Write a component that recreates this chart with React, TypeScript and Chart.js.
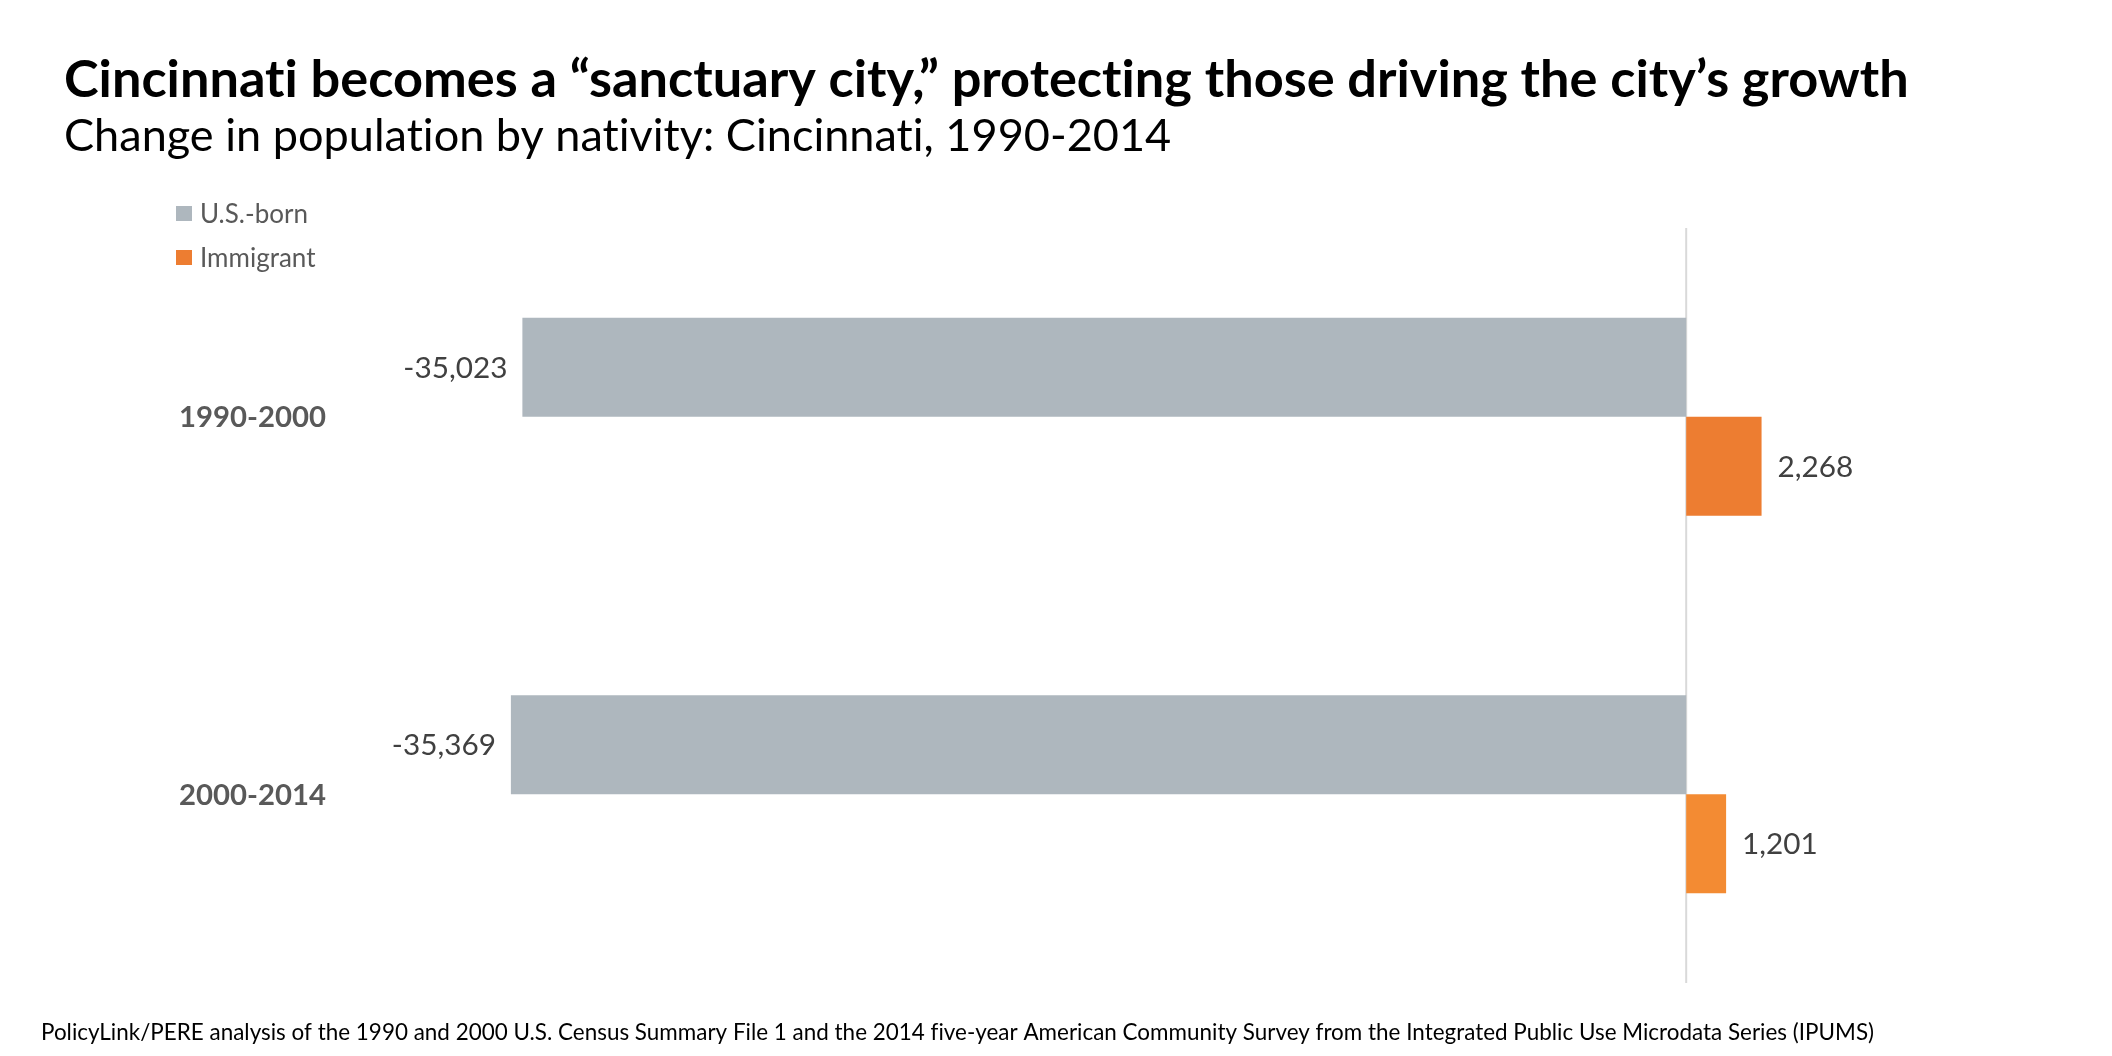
import React, { useEffect, useRef } from "react";
import { Chart, registerables } from "chart.js";

Chart.register(...registerables);

// ---- data ----
const periods = ["1990-2000", "2000-2014"];
const usBorn = [-35023, -35369];
const immigrant = [2268, 1201];
const seriesNames = ["U.S.-born", "Immigrant"];
const xMin = -40000;
const xMax = 10000;

const titleText =
  "Cincinnati becomes a \u201Csanctuary city,\u201D protecting those driving the city\u2019s growth";
const subtitleText = "Change in population by nativity: Cincinnati, 1990-2014";
const sourceText =
  "PolicyLink/PERE analysis of the 1990 and 2000 U.S. Census Summary File 1 and the 2014 five-year American Community Survey from the Integrated Public Use Microdata Series (IPUMS)";

// ---- styles ----
const GRAY = "#AEB7BE";
const ORANGES = ["#ED7D31", "#F38B33"];
const FAMILY = "Lato, 'Open Sans', sans-serif";

function noLig(ctx: any) {
  try {
    ctx.letterSpacing = "0.01px";
  } catch (e) {}
}

function fitSize(ctx: CanvasRenderingContext2D, text: string, weight: string, width: number) {
  ctx.font = `${weight} 100px ${FAMILY}`;
  noLig(ctx);
  const w = ctx.measureText(text).width;
  return (100 * width) / w;
}

function drawFit(
  ctx: CanvasRenderingContext2D,
  text: string,
  weight: string,
  width: number,
  x: number,
  y: number,
  color: string
) {
  const s = fitSize(ctx, text, weight, width);
  ctx.font = `${weight} ${s}px ${FAMILY}`;
  noLig(ctx);
  ctx.fillStyle = color;
  ctx.textAlign = "left";
  ctx.textBaseline = "alphabetic";
  ctx.fillText(text, x, y);
}

const fmt = (v: number) => v.toLocaleString("en-US");

const decorPlugin = {
  id: "decor",
  beforeDatasetsDraw(chart: any) {
    const { ctx, chartArea, scales } = chart;
    const x0 = scales.x.getPixelForValue(0);
    ctx.save();
    ctx.strokeStyle = "#D9D9D9";
    ctx.lineWidth = 2;
    ctx.beginPath();
    ctx.moveTo(x0, chartArea.top);
    ctx.lineTo(x0, chartArea.bottom);
    ctx.stroke();
    ctx.restore();
  },
  afterDatasetsDraw(chart: any) {
    const { ctx, scales } = chart;
    ctx.save();
    // value labels
    const valSize = fitSize(ctx, "-35,023", "400", 104);
    ctx.font = `400 ${valSize}px ${FAMILY}`;
    noLig(ctx);
    ctx.fillStyle = "#404040";
    ctx.textBaseline = "alphabetic";
    chart.data.datasets.forEach((ds: any, di: number) => {
      const meta = chart.getDatasetMeta(di);
      meta.data.forEach((el: any, i: number) => {
        const v = ds.data[i] as number;
        const yb = el.y + valSize * 0.36;
        if (v < 0) {
          ctx.textAlign = "right";
          ctx.fillText(fmt(v), el.x - 15, yb);
        } else {
          ctx.textAlign = "left";
          ctx.fillText(fmt(v), el.x + 16, yb);
        }
      });
    });
    // category labels
    const catSize = fitSize(ctx, "1990-2000", "700", 147);
    ctx.font = `700 ${catSize}px ${FAMILY}`;
    noLig(ctx);
    ctx.fillStyle = "#595959";
    ctx.textAlign = "left";
    chart.data.labels.forEach((lab: string, i: number) => {
      const y = scales.y.getPixelForValue(i);
      ctx.fillText(lab, 179, y + catSize * 0.36);
    });
    ctx.restore();
  },
  afterDraw(chart: any) {
    const { ctx } = chart;
    ctx.save();
    drawFit(ctx, titleText, "700", 1845, 64, 97, "#000000");
    drawFit(ctx, subtitleText, "400", 1107, 64, 151, "#000000");
    drawFit(ctx, sourceText, "400", 1833, 41, 1040, "#000000");
    // legend
    const legSize = fitSize(ctx, "U.S.-born", "400", 108);
    const rows = [206, 250];
    chart.data.datasets.forEach((ds: any, di: number) => {
      const bg = Array.isArray(ds.backgroundColor) ? ds.backgroundColor[0] : ds.backgroundColor;
      const top = rows[di];
      ctx.fillStyle = bg;
      ctx.fillRect(176, top, 16, 15);
      ctx.font = `400 ${legSize}px ${FAMILY}`;
      noLig(ctx);
      ctx.fillStyle = "#595959";
      ctx.textAlign = "left";
      ctx.textBaseline = "alphabetic";
      ctx.fillText(ds.label, 200, top + 7.5 + legSize * 0.36);
    });
    ctx.restore();
  },
};

export default function App() {
  const ref = useRef<HTMLCanvasElement | null>(null);
  useEffect(() => {
    if (!ref.current) return;
    const chart = new Chart(ref.current, {
      type: "bar",
      data: {
        labels: periods,
        datasets: [
          {
            label: seriesNames[0],
            data: usBorn,
            backgroundColor: GRAY,
            borderWidth: 0,
            categoryPercentage: 0.525,
            barPercentage: 1,
          },
          {
            label: seriesNames[1],
            data: immigrant,
            backgroundColor: ORANGES,
            borderWidth: 0,
            categoryPercentage: 0.525,
            barPercentage: 1,
          },
        ],
      },
      options: {
        indexAxis: "y",
        responsive: false,
        devicePixelRatio: 1,
        animation: false,
        layout: { padding: { left: 357, right: 93.5, top: 228, bottom: 73 } },
        plugins: {
          legend: { display: false },
          tooltip: { enabled: false },
          title: { display: false },
        },
        scales: {
          x: { type: "linear", min: xMin, max: xMax, display: false },
          y: { type: "category", display: false },
        },
      },
      plugins: [decorPlugin],
    });
    return () => chart.destroy();
  }, []);
  return (
    <div style={{ position: "fixed", left: 0, top: 0, width: 2112, height: 1056, background: "#fff" }}>
      <canvas ref={ref} width={2112} height={1056} style={{ display: "block" }} />
    </div>
  );
}
